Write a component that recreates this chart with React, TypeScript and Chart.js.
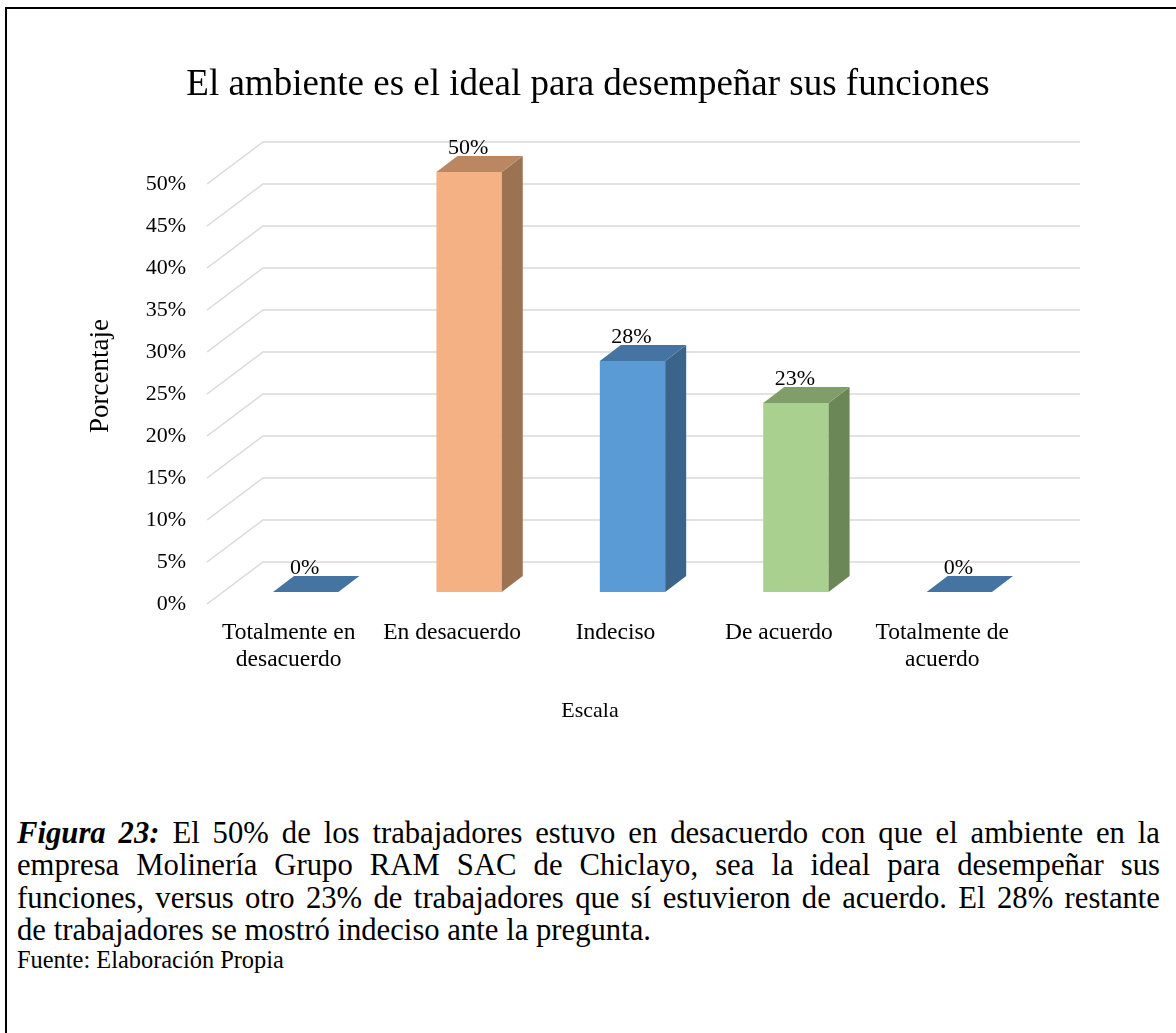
import React, { useEffect, useRef } from "react";
import { Chart, registerables } from "chart.js";

Chart.register(...registerables);

// ---------- data ----------
const chartTitle = "El ambiente es el ideal para desempeñar sus funciones";
const xAxisTitle = "Escala";
const yAxisTitle = "Porcentaje";
const categories: (string | string[])[] = [
  ["Totalmente en", "desacuerdo"],
  "En desacuerdo",
  "Indeciso",
  "De acuerdo",
  ["Totalmente de", "acuerdo"],
];
const values = [0, 50, 27.5, 22.5, 0];
const yMin = 0;
const yMax = 50;
const yStep = 5;
const frontColors = ["#5B9BD5", "#F4B183", "#5B9BD5", "#A9D08E", "#5B9BD5"];
const sideColors = ["#3A6489", "#9C7352", "#3A6489", "#6C8757", "#3A6489"];
const topColors = ["#4674A2", "#BA8762", "#4674A2", "#809E6A", "#4674A2"];

// ---------- geometry / style ----------
const FONT = "'Liberation Serif', 'Times New Roman', serif";
const W = 1176;
const H = 760;
const FLOOR_DX = 56;
const FLOOR_DY = 42;
const BAR_OFF_X = 17;
const BAR_OFF_Y = 12;
const BAR_DEPTH_X = 21;
const BAR_DEPTH_Y = 16;

const threeD = {
  id: "threeD",
  beforeDatasetsDraw(chart: any) {
    const { ctx, chartArea } = chart;
    const y = chart.scales.y;
    ctx.save();
    ctx.strokeStyle = "#D9D9D9";
    ctx.lineWidth = 1.5;
    y.ticks.forEach((t: any) => {
      const py = y.getPixelForValue(t.value);
      ctx.beginPath();
      ctx.moveTo(chartArea.left, py);
      ctx.lineTo(chartArea.left + FLOOR_DX, py - FLOOR_DY);
      ctx.lineTo(chartArea.right + FLOOR_DX, py - FLOOR_DY);
      ctx.stroke();
    });
    ctx.restore();
    ctx.save();
    ctx.translate(BAR_OFF_X, -BAR_OFF_Y);
  },
  afterDatasetsDraw(chart: any) {
    const { ctx } = chart;
    ctx.restore();
    const meta = chart.getDatasetMeta(0);
    meta.data.forEach((el: any, i: number) => {
      const { x, y, base, width } = el.getProps(["x", "y", "base", "width"], true);
      const l = x - width / 2 + BAR_OFF_X;
      const r = x + width / 2 + BAR_OFF_X;
      const t = y - BAR_OFF_Y;
      const b = base - BAR_OFF_Y;
      ctx.save();
      if (b - t > 0.5) {
        ctx.fillStyle = sideColors[i];
        ctx.beginPath();
        ctx.moveTo(r, t);
        ctx.lineTo(r + BAR_DEPTH_X, t - BAR_DEPTH_Y);
        ctx.lineTo(r + BAR_DEPTH_X, b - BAR_DEPTH_Y);
        ctx.lineTo(r, b);
        ctx.closePath();
        ctx.fill();
      }
      ctx.fillStyle = topColors[i];
      ctx.beginPath();
      ctx.moveTo(l, t);
      ctx.lineTo(r, t);
      ctx.lineTo(r + BAR_DEPTH_X, t - BAR_DEPTH_Y);
      ctx.lineTo(l + BAR_DEPTH_X, t - BAR_DEPTH_Y);
      ctx.closePath();
      ctx.fill();
      ctx.restore();
    });
    // data labels
    ctx.save();
    ctx.fillStyle = "#000";
    ctx.font = `22px ${FONT}`;
    ctx.textAlign = "center";
    ctx.textBaseline = "middle";
    meta.data.forEach((el: any, i: number) => {
      const { x, y } = el.getProps(["x", "y"], true);
      ctx.fillText(Math.round(values[i]) + "%", x + BAR_OFF_X - 1, y - BAR_OFF_Y - 24);
    });
    ctx.restore();
  },
  afterDraw(chart: any) {
    const { ctx } = chart;
    ctx.save();
    ctx.fillStyle = "#000";
    ctx.textAlign = "center";
    ctx.textBaseline = "alphabetic";
    ctx.font = `37px ${FONT}`;
    ctx.fillText(chartTitle, 588, 95);
    ctx.textBaseline = "middle";
    ctx.font = `22px ${FONT}`;
    ctx.fillText(xAxisTitle, 590, 711);
    ctx.font = `27px ${FONT}`;
    ctx.translate(101, 376);
    ctx.rotate(-Math.PI / 2);
    ctx.fillText(yAxisTitle, 0, 0);
    ctx.restore();
  },
};

export default function App() {
  const canvasRef = useRef<HTMLCanvasElement | null>(null);

  useEffect(() => {
    const canvas = canvasRef.current;
    if (!canvas) return;
    Chart.defaults.font.family = FONT;
    const chart = new Chart(canvas, {
      type: "bar",
      data: {
        labels: categories as any,
        datasets: [
          {
            data: values,
            backgroundColor: frontColors,
            borderWidth: 0,
            barPercentage: 0.4,
            categoryPercentage: 1,
            clip: false as any,
          },
        ],
      },
      options: {
        responsive: false,
        animation: false,
        layout: { padding: { top: 184, left: 0, right: 152, bottom: 0 } },
        plugins: {
          legend: { display: false },
          title: { display: false },
          tooltip: { enabled: false },
        },
        scales: {
          x: {
            grid: { display: false, drawTicks: false },
            border: { display: false },
            ticks: {
              color: "#000",
              font: { size: 23.5, family: FONT, lineHeight: 1.15 },
              padding: 15.5,
              maxRotation: 0,
              autoSkip: false,
            },
            afterFit: (s: any) => {
              s.height = H - 604;
            },
          },
          y: {
            min: yMin,
            max: yMax,
            grid: { display: false, drawTicks: false },
            border: { display: false },
            ticks: {
              stepSize: yStep,
              color: "#000",
              font: { size: 22, family: FONT },
              padding: 21,
              callback: (v: any) => v + "%",
            },
            afterFit: (s: any) => {
              s.width = 207;
            },
          },
        },
      },
      plugins: [threeD],
    });
    return () => chart.destroy();
  }, []);

  const justified: React.CSSProperties = {
    textAlign: "justify",
    textAlignLast: "justify",
    whiteSpace: "nowrap",
  };

  return (
    <div
      style={{
        position: "fixed",
        left: 0,
        top: 0,
        width: W,
        height: 1033,
        overflow: "hidden",
        background: "#fff",
      }}
    >
      <div
        style={{
          position: "absolute",
          left: 5,
          top: 7,
          width: 1171,
          height: 1026,
          boxSizing: "border-box",
          borderTop: "2px solid #000",
          borderLeft: "2px solid #000",
        }}
      />
      <canvas
        ref={canvasRef}
        width={W}
        height={H}
        style={{ position: "absolute", left: 0, top: 0, width: W, height: H }}
      />
      <div
        style={{
          position: "absolute",
          left: 17,
          top: 817,
          width: 1143,
          fontFamily: FONT,
          fontSize: "30.7px",
          lineHeight: "32.3px",
          color: "#000",
        }}
      >
        <div style={justified}>
          <b>
            <i>Figura 23:</i>
          </b>{" "}
          El 50% de los trabajadores estuvo en desacuerdo con que el ambiente en la
        </div>
        <div style={justified}>
          empresa Molinería Grupo RAM SAC de Chiclayo, sea la ideal para desempeñar sus
        </div>
        <div style={justified}>
          funciones, versus otro 23% de trabajadores que sí estuvieron de acuerdo. El 28% restante
        </div>
        <div style={{ whiteSpace: "nowrap" }}>de trabajadores se mostró indeciso ante la pregunta.</div>
        <div style={{ fontSize: "24.4px", lineHeight: "28px", whiteSpace: "nowrap" }}>
          Fuente: Elaboración Propia
        </div>
      </div>
    </div>
  );
}
